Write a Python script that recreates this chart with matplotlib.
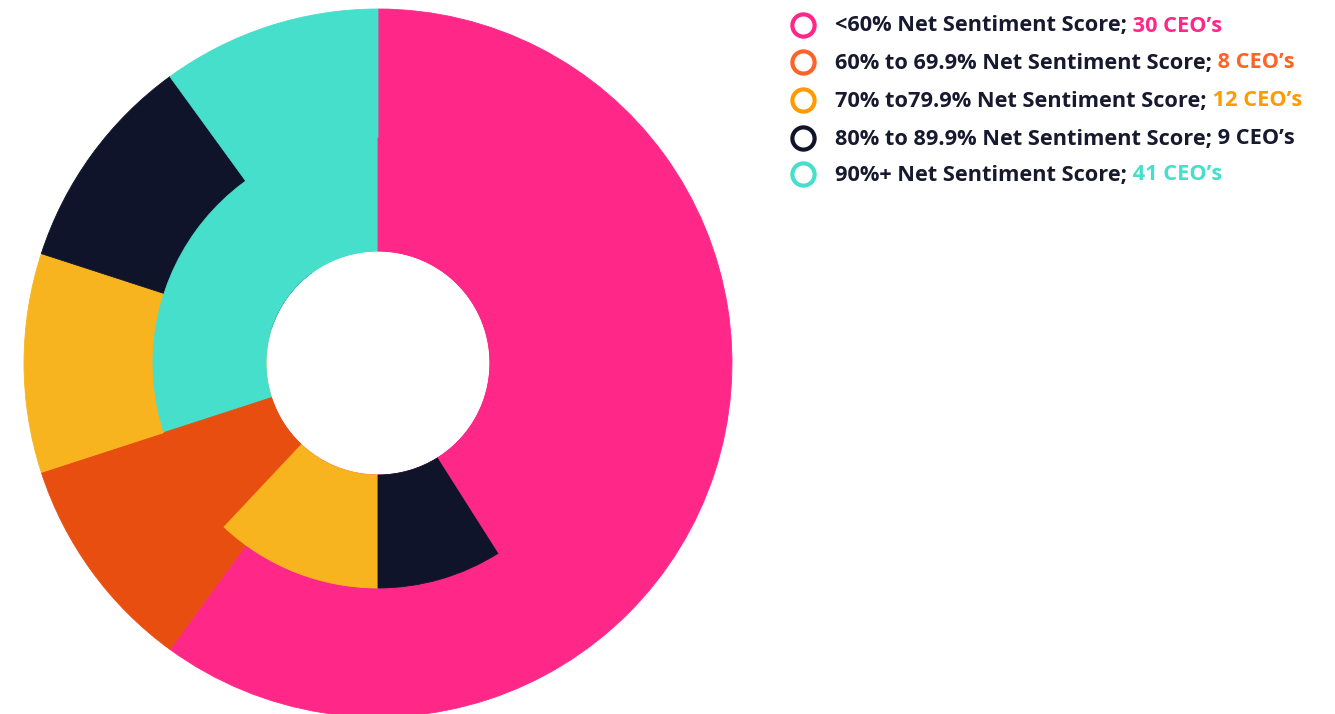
import matplotlib
matplotlib.use("Agg")
import matplotlib.pyplot as plt
from matplotlib.text import Annotation

# ---- data ----
categories = ["<60% Net Sentiment Score;", "60% to 69.9% Net Sentiment Score;",
              "70% to79.9% Net Sentiment Score;", "80% to 89.9% Net Sentiment Score;",
              "90%+ Net Sentiment Score;"]
ceo_counts = [30, 8, 12, 9, 41]
count_labels = ["30 CEO\u2019s", "8 CEO\u2019s", "12 CEO\u2019s", "9 CEO\u2019s", "41 CEO\u2019s"]
outer_shares = [60, 10, 10, 10, 10]

# ---- styles ----
pie_colors = ["#FF2788", "#E84E0F", "#F8B41F", "#10142A", "#45DFCB"]
inner_colors = ["#45DFCB", "#E84E0F", "#F8B41F", "#10142A", "#FF2788"]
legend_colors = ["#FF2788", "#FF6327", "#FF9B00", "#10142A", "#45DFCB"]
text_color = "#171A2E"

W, H = 1335, 714
fig = plt.figure(figsize=(W / 100, H / 100), dpi=100)
fig.patch.set_facecolor("white")

cx, cy, R = 378, 363, 354
ax = fig.add_axes([(cx - R) / W, (H - cy - R) / H, 2 * R / W, 2 * R / H])
ax.set_axis_off()

hole = 112
inner_r = 225
w1, _ = ax.pie(outer_shares, colors=pie_colors, startangle=90, counterclock=False,
               radius=1.0, wedgeprops=dict(width=(R - hole) / R, linewidth=0.6))
w2, _ = ax.pie(ceo_counts, colors=inner_colors, startangle=90, counterclock=True,
               radius=inner_r / R, wedgeprops=dict(width=(inner_r - hole) / R, linewidth=0.6))
for w in list(w1) + list(w2):
    w.set_edgecolor(w.get_facecolor())
ax.set_xlim(-1, 1)
ax.set_ylim(-1, 1)
ax.set_aspect("equal")

# ---- legend ----
font = dict(family=["Open Sans", "DejaVu Sans"], weight="bold", size=15.7)
ys = [25, 62, 100, 138, 174]
for i, (cat, lab) in enumerate(zip(categories, count_labels)):
    yf = 1 - ys[i] / H
    fig.add_artist(plt.Line2D([803 / W], [yf], transform=fig.transFigure,
                              marker="o", markersize=16, markerfacecolor="white",
                              markeredgecolor=legend_colors[i], markeredgewidth=3,
                              linestyle="none"))
    t1 = fig.text(835 / W, 1 - (ys[i] + 1) / H, cat, color=text_color,
                  va="center", ha="left", **font)
    lab_color = text_color if i == 3 else legend_colors[i]
    fig.add_artist(Annotation(" " + lab, xy=(1, 0), xycoords=t1,
                              va="bottom", ha="left", color=lab_color, **font))

fig.savefig("out.png", dpi=100, facecolor="white")
